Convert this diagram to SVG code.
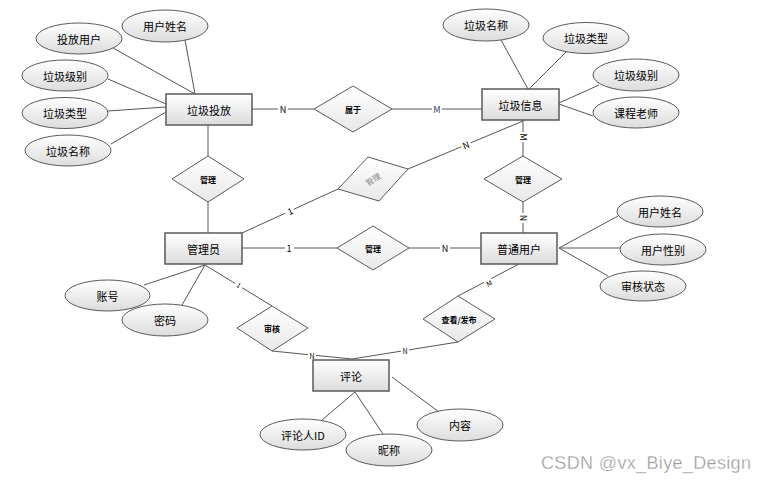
<svg xmlns="http://www.w3.org/2000/svg" width="759" height="482" viewBox="0 0 759 482">
<defs>
<linearGradient id="g" x1="0" y1="0" x2="0" y2="1">
<stop offset="0" stop-color="#ffffff"/>
<stop offset="1" stop-color="#dcdcdc"/>
</linearGradient>
<linearGradient id="gd" x1="0" y1="0" x2="0" y2="1">
<stop offset="0" stop-color="#ffffff"/>
<stop offset="1" stop-color="#e8e8e8"/>
</linearGradient>
</defs>
<style>
.ent{fill:url(#g);stroke:#5a5a5a;stroke-width:1.5}
.att{fill:url(#g);stroke:#5a5a5a;stroke-width:1}
.rel{fill:url(#gd);stroke:#5a5a5a;stroke-width:1}
.ln{stroke:#555;stroke-width:1;fill:none}
text{font-family:"Noto Sans CJK SC","Liberation Sans",sans-serif;fill:#000;text-anchor:middle;dominant-baseline:central}
.t{font-size:11px}
.r{font-size:8px;font-weight:bold}
.lb{font-size:9px;font-family:"Liberation Sans","Noto Sans CJK SC",sans-serif}
.wm{font-family:"Liberation Sans",Arial,sans-serif;font-size:18px;fill:#9a9a9a;text-anchor:start;dominant-baseline:auto}
</style>
<rect width="759" height="482" fill="#fff"/>
<g id="connectors">
<line class="ln" x1="185" y1="40" x2="195" y2="94"/>
<line class="ln" x1="113" y1="48" x2="195" y2="94"/>
<line class="ln" x1="108" y1="79" x2="166" y2="104"/>
<line class="ln" x1="108" y1="111" x2="166" y2="107"/>
<line class="ln" x1="111" y1="144" x2="166" y2="112"/>
<line class="ln" x1="501" y1="40" x2="528" y2="89"/>
<line class="ln" x1="566" y1="52" x2="529" y2="89"/>
<line class="ln" x1="599" y1="85" x2="559" y2="103"/>
<line class="ln" x1="593" y1="116" x2="559" y2="104"/>
<line class="ln" x1="618" y1="216" x2="559" y2="248"/>
<line class="ln" x1="620" y1="248" x2="559" y2="248"/>
<line class="ln" x1="608" y1="276" x2="559" y2="248"/>
<line class="ln" x1="144" y1="285" x2="205" y2="265"/>
<line class="ln" x1="182" y1="305" x2="205" y2="265"/>
<line class="ln" x1="355" y1="392" x2="322" y2="420"/>
<line class="ln" x1="355" y1="392" x2="383" y2="434"/>
<line class="ln" x1="392" y1="377" x2="439" y2="412"/>
<line class="ln" x1="252" y1="109" x2="314" y2="109"/>
<line class="ln" x1="392" y1="109" x2="482" y2="109"/>
<line class="ln" x1="208" y1="125" x2="208" y2="156"/>
<line class="ln" x1="208" y1="202" x2="208" y2="233"/>
<line class="ln" x1="523" y1="120" x2="523" y2="156"/>
<line class="ln" x1="523" y1="202" x2="523" y2="233"/>
<line class="ln" x1="242" y1="233" x2="338" y2="189"/>
<line class="ln" x1="408" y1="169" x2="523" y2="121"/>
<line class="ln" x1="242" y1="248" x2="337" y2="248"/>
<line class="ln" x1="409" y1="248" x2="481" y2="248"/>
<line class="ln" x1="205" y1="265" x2="272" y2="306"/>
<line class="ln" x1="272" y1="351" x2="352" y2="359"/>
<line class="ln" x1="458" y1="342" x2="352" y2="359"/>
<line class="ln" x1="519" y1="264" x2="458" y2="296"/>
<g class="lb">
<rect x="278" y="104" width="10" height="10" fill="#fff"/>
<text x="283" y="109">N</text>
<rect x="432" y="104" width="10" height="10" fill="#fff"/>
<text x="437" y="109" style="fill:#1f3a6e">M</text>
<rect x="518" y="132" width="10" height="10" fill="#fff"/>
<text x="523" y="137" transform="rotate(90 523 137)">M</text>
<rect x="518" y="213" width="10" height="10" fill="#fff"/>
<text x="523" y="218" transform="rotate(90 523 218)">N</text>
<rect x="285" y="206" width="9" height="10" fill="#fff" transform="rotate(-24 290 211)"/>
<text x="290" y="211" transform="rotate(-24 290 211)">1</text>
<rect x="461" y="140" width="10" height="10" fill="#fff" transform="rotate(-22 466 145)"/>
<text x="466" y="145" transform="rotate(-22 466 145)">N</text>
<rect x="285" y="243" width="9" height="10" fill="#fff"/>
<text x="289" y="248">1</text>
<rect x="440" y="243" width="10" height="10" fill="#fff"/>
<text x="445" y="248">N</text>
<rect x="235" y="281" width="8" height="8" fill="#fff" transform="rotate(31 239 285)"/>
<text x="239" y="285" transform="rotate(31 239 285)" style="font-size:7px">1</text>
<rect x="308" y="352" width="8" height="8" fill="#fff"/>
<text x="312" y="356" style="font-size:7px">N</text>
<rect x="401" y="347" width="8" height="8" fill="#fff"/>
<text x="405" y="351" style="font-size:7px">N</text>
<rect x="485" y="279" width="8" height="8" fill="#fff" transform="rotate(-28 489 283)"/>
<text x="489" y="283" transform="rotate(-28 489 283)" style="font-size:7px">M</text>
</g>
</g>
<g id="e-laji-toufang"><rect class="ent" x="166" y="94" width="86" height="31"/><text class="t" x="209" y="109.5">垃圾投放</text></g>
<g id="e-laji-xinxi"><rect class="ent" x="482" y="89" width="77" height="31"/><text class="t" x="520.5" y="104.5">垃圾信息</text></g>
<g id="e-guanliyuan"><rect class="ent" x="165" y="233" width="77" height="31"/><text class="t" x="203.5" y="248.5">管理员</text></g>
<g id="e-putong-yonghu"><rect class="ent" x="481" y="233" width="76" height="31"/><text class="t" x="519" y="248.5">普通用户</text></g>
<g id="e-pinglun"><rect class="ent" x="313" y="360" width="76" height="31"/><text class="t" x="351" y="375.5">评论</text></g>
<g id="a-yonghu-xingming-1"><ellipse class="att" cx="165" cy="26" rx="43" ry="16"/><text class="t" x="165" y="26">用户姓名</text></g>
<g id="a-toufang-yonghu"><ellipse class="att" cx="79" cy="38.5" rx="43" ry="15.5"/><text class="t" x="79" y="38.5">投放用户</text></g>
<g id="a-laji-jibie-1"><ellipse class="att" cx="65" cy="75.5" rx="43" ry="15.5"/><text class="t" x="65" y="75.5">垃圾级别</text></g>
<g id="a-laji-leixing-1"><ellipse class="att" cx="65" cy="113" rx="43" ry="15.5"/><text class="t" x="65" y="113">垃圾类型</text></g>
<g id="a-laji-mingcheng-1"><ellipse class="att" cx="68" cy="150.5" rx="43" ry="15.5"/><text class="t" x="68" y="150.5">垃圾名称</text></g>
<g id="a-laji-mingcheng-2"><ellipse class="att" cx="486" cy="25" rx="43" ry="16"/><text class="t" x="486" y="25">垃圾名称</text></g>
<g id="a-laji-leixing-2"><ellipse class="att" cx="586" cy="38" rx="43" ry="15.5"/><text class="t" x="586" y="38">垃圾类型</text></g>
<g id="a-laji-jibie-2"><ellipse class="att" cx="636" cy="75" rx="43" ry="16"/><text class="t" x="636" y="75">垃圾级别</text></g>
<g id="a-kecheng-laoshi"><ellipse class="att" cx="636" cy="112.5" rx="43" ry="15.5"/><text class="t" x="636" y="112.5">课程老师</text></g>
<g id="a-yonghu-xingming-2"><ellipse class="att" cx="660" cy="211.5" rx="43" ry="15.5"/><text class="t" x="660" y="211.5">用户姓名</text></g>
<g id="a-yonghu-xingbie"><ellipse class="att" cx="663" cy="249.5" rx="43" ry="15.5"/><text class="t" x="663" y="249.5">用户性别</text></g>
<g id="a-shenhe-zhuangtai"><ellipse class="att" cx="643" cy="286" rx="43" ry="15"/><text class="t" x="643" y="286">审核状态</text></g>
<g id="a-zhanghao"><ellipse class="att" cx="107.5" cy="295.5" rx="42.5" ry="15.5"/><text class="t" x="107.5" y="295.5">账号</text></g>
<g id="a-mima"><ellipse class="att" cx="165" cy="320" rx="43" ry="16"/><text class="t" x="165" y="320">密码</text></g>
<g id="a-pinglunren-id"><ellipse class="att" cx="303" cy="434.5" rx="43" ry="15.5"/><text class="t" x="303" y="434.5">评论人ID</text></g>
<g id="a-nicheng"><ellipse class="att" cx="389" cy="450" rx="43" ry="16"/><text class="t" x="389" y="450">昵称</text></g>
<g id="a-neirong"><ellipse class="att" cx="460" cy="425" rx="43" ry="16"/><text class="t" x="460" y="425">内容</text></g>
<g id="r-shuyu"><polygon class="rel" points="353,86 392,109 353,132 314,109"/><text class="r" x="353" y="109">属于</text></g>
<g id="r-guanli-1"><polygon class="rel" points="208,156 244,179 208,202 172,179"/><text class="r" x="208" y="179">管理</text></g>
<g id="r-guanli-2"><polygon class="rel" points="368,157 408,169 379,201 338,189"/><text class="r" x="373" y="179" transform="rotate(-32 373 179)" style="fill:#888;font-weight:normal">管理</text></g>
<g id="r-guanli-3"><polygon class="rel" points="373,226 409,248 373,270 337,248"/><text class="r" x="373" y="248">管理</text></g>
<g id="r-guanli-4"><polygon class="rel" points="523,156 562,179 523,202 484,179"/><text class="r" x="523" y="179">管理</text></g>
<g id="r-shenhe"><polygon class="rel" points="272,306 308,328 272,351 237,328"/><text class="r" x="272" y="328">审核</text></g>
<g id="r-chakan-fabu"><polygon class="rel" points="458,296 495,319 458,342 423,319"/><text class="r" x="459" y="319">查看/发布</text></g>
<text class="wm" x="541" y="469" textLength="210" stroke="#fff" stroke-width="0.3">CSDN @vx_Biye_Design</text>
</svg>
